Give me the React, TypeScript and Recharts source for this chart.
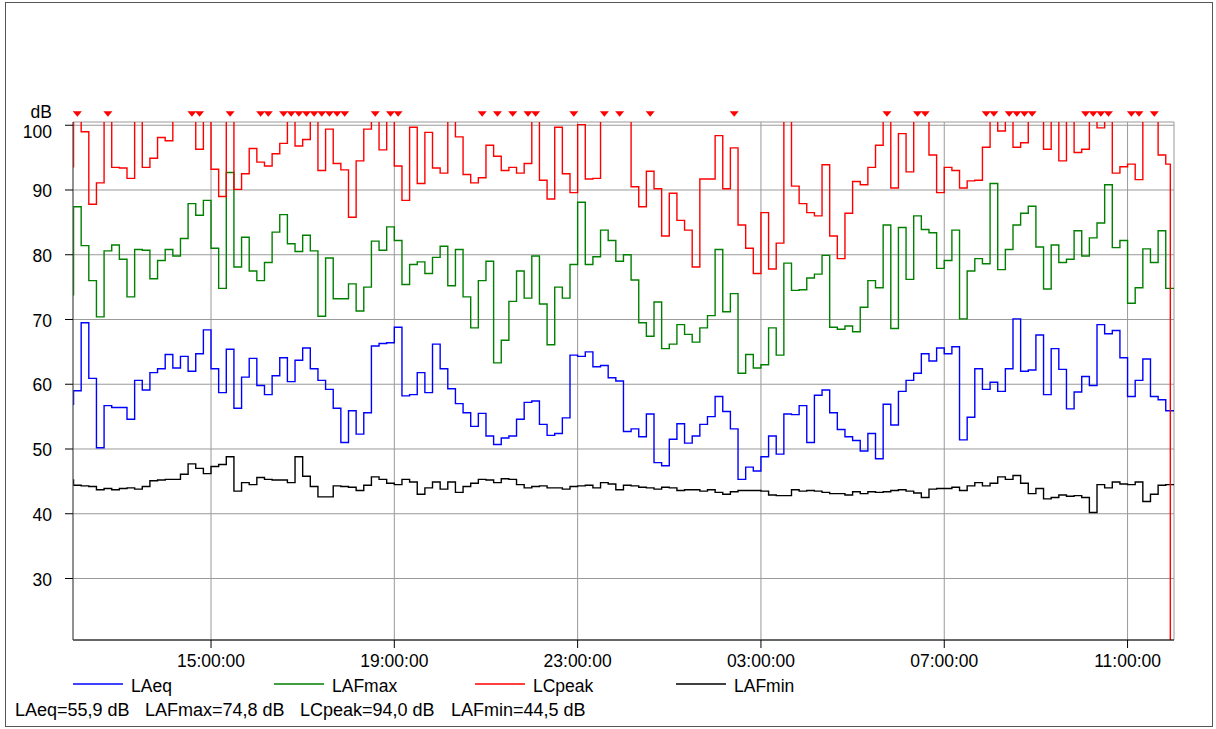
import React from 'react';
import { ComposedChart, Line, Scatter, XAxis, YAxis, CartesianGrid } from 'recharts';

// Measurement: 10-minute intervals starting at 12:00
const START_HOUR = 12;
const INTERVAL_MIN = 10;

const lcpeak = [
  101, 99.0, 87.8, 91.1, 101, 93.5, 93.4, 91.8, 101, 93.5, 94.9, 98.1, 97.6, 101, 101, 101, 96.3, 101,
  93.2, 89.0, 101, 90.1, 92.5, 96.4, 94.3, 93.7, 95.6, 97.2, 101, 96.8, 97.8, 101, 93.0, 99.4, 94.1, 93.1,
  85.8, 94.5, 99.4, 101, 96.2, 101, 93.7, 88.4, 99.7, 91.0, 98.9, 93.4, 92.6, 101, 98.2, 92.4, 91.1, 91.9,
  96.9, 95.2, 93.0, 93.5, 92.6, 94.1, 101, 91.5, 88.6, 99.7, 92.5, 89.6, 100.1, 91.7, 91.8, 101, 101, 101,
  101, 90.5, 87.4, 92.9, 90.2, 82.9, 89.5, 85.3, 83.8, 78.1, 91.7, 91.7, 98.4, 90.2, 96.5, 84.6, 81.0, 77.1, 86.5,
  77.8, 81.8, 101, 90.6, 87.9, 86.5, 86.0, 93.9, 82.9, 79.4, 86.4, 91.3, 90.8, 93.5, 96.9, 101, 90.3, 98.7,
  92.8, 101, 101, 95.4, 89.6, 93.5, 93.0, 90.3, 91.4, 91.5, 96.6, 101, 99.1, 101, 96.6, 97.3, 101, 101,
  96.3, 101, 94.5, 101, 95.8, 96.3, 101, 99.6, 101, 92.6, 93.6, 94.0, 91.6, 101, 101, 95.4, 94.0,
];

const lafmax = [
  87.4, 81.4, 76.0, 70.4, 80.6, 81.5, 79.3, 73.5, 80.8, 80.7, 76.3, 79.1, 80.8, 79.8, 82.5, 87.9, 86.1, 88.4,
  81.0, 74.8, 92.7, 78.1, 82.7, 77.5, 76.0, 78.8, 83.5, 86.2, 81.7, 80.5, 83.0, 80.6, 70.5, 79.5, 73.2, 73.2,
  75.5, 71.3, 75.0, 82.1, 80.7, 84.3, 82.2, 75.4, 78.5, 78.9, 77.1, 79.6, 81.3, 75.2, 80.8, 73.5, 68.7, 76.0,
  79.0, 63.3, 66.8, 72.8, 77.5, 73.3, 79.8, 72.4, 66.1, 75.0, 73.3, 78.5, 88.1, 78.5, 79.7, 83.8, 82.2, 79.0,
  80.0, 76.1, 69.5, 67.4, 72.7, 65.5, 66.2, 69.2, 67.7, 66.5, 68.7, 70.6, 80.8, 71.2, 74.0, 61.7, 64.6, 62.5, 63.0,
  68.7, 64.5, 78.7, 74.5, 74.6, 76.4, 77.0, 79.9, 68.8, 68.5, 69.0, 68.1, 71.9, 76.0, 74.9, 84.6, 68.6, 84.2,
  76.2, 86.0, 83.9, 83.4, 77.9, 79.1, 83.8, 70.1, 77.5, 79.4, 78.6, 91.0, 77.7, 80.8, 84.6, 86.4, 87.5, 81.2,
  74.7, 81.5, 78.8, 79.3, 83.7, 79.8, 82.6, 84.9, 90.8, 81.1, 82.2, 72.5, 74.9, 80.9, 78.8, 83.7, 74.8,
];

const laeq = [
  59.0, 69.5, 60.9, 50.2, 56.7, 56.4, 56.4, 54.6, 60.6, 59.1, 61.8, 62.4, 64.6, 62.5, 64.3, 62.0, 64.7, 68.4,
  62.4, 58.7, 65.4, 56.3, 61.1, 64.0, 59.8, 58.4, 61.3, 64.1, 60.4, 63.7, 65.6, 62.4, 60.6, 59.2, 56.3, 51.0,
  55.9, 52.3, 55.6, 65.9, 66.3, 66.4, 68.8, 58.2, 58.4, 61.8, 58.7, 66.2, 62.4, 59.3, 57.0, 55.6, 53.5, 55.5,
  52.0, 50.7, 51.7, 52.0, 54.6, 57.2, 57.4, 53.8, 52.1, 52.4, 54.8, 64.5, 64.3, 65.0, 62.7, 62.9, 61.0, 60.5,
  52.7, 53.1, 51.9, 55.4, 47.9, 47.4, 51.5, 53.9, 50.9, 52.0, 53.8, 55.0, 58.1, 55.8, 53.1, 45.3, 47.2, 46.6, 48.8,
  52.0, 49.2, 55.4, 55.3, 56.7, 51.0, 58.3, 59.1, 55.6, 53.0, 51.9, 51.3, 49.7, 52.4, 48.5, 56.9, 53.7, 58.9,
  60.6, 61.7, 64.7, 63.6, 65.6, 64.7, 65.8, 51.4, 54.9, 62.4, 59.2, 60.3, 58.9, 62.4, 70.1, 62.0, 62.2, 67.6,
  58.4, 65.5, 62.3, 56.2, 58.8, 61.2, 59.8, 69.2, 67.8, 68.3, 64.1, 58.1, 60.6, 63.9, 58.1, 57.6, 55.9,
];

const lafmin = [
  44.4, 44.3, 44.2, 43.7, 43.9, 43.7, 43.9, 44.0, 43.8, 44.2, 45.1, 45.2, 45.3, 45.3, 46.1, 47.7, 47.0, 46.2,
  47.3, 47.6, 48.8, 43.5, 44.8, 44.5, 45.6, 45.3, 45.2, 45.2, 44.8, 48.8, 45.8, 44.2, 42.6, 42.6, 44.3, 44.2,
  44.1, 43.6, 44.4, 45.7, 45.3, 44.7, 44.5, 45.3, 44.9, 43.0, 44.0, 44.9, 43.8, 44.9, 43.3, 44.2, 44.7, 45.3,
  45.2, 44.8, 45.4, 45.3, 44.5, 44.0, 44.2, 44.3, 44.0, 44.0, 43.8, 44.2, 44.3, 44.4, 44.0, 44.8, 44.6, 43.7,
  44.4, 44.3, 44.1, 44.0, 43.8, 44.1, 44.0, 43.6, 43.7, 43.7, 43.5, 43.7, 43.3, 43.0, 43.4, 43.6, 43.6, 43.6, 43.5,
  42.9, 42.8, 42.8, 43.7, 43.5, 43.6, 43.5, 43.3, 43.1, 43.1, 42.9, 43.4, 43.1, 43.4, 43.3, 43.4, 43.6, 43.7,
  43.5, 43.2, 42.5, 43.8, 43.9, 43.9, 44.1, 43.6, 44.3, 44.8, 44.3, 44.7, 45.7, 45.3, 45.9, 44.7, 43.1, 43.9,
  42.3, 42.5, 42.9, 42.7, 42.8, 42.5, 40.2, 44.5, 44.0, 44.9, 44.6, 44.5, 44.9, 41.9, 43.0, 44.4, 44.5,
];

// values shown just before the first interval
const initialValues = { lcpeak: 93.6, lafmax: 73.8, laeq: 56.9, lafmin: 45.2 };

// intervals flagged as overload (red markers above the plot)
const overloadIdx = [
  0, 4, 15, 16, 20, 24, 25, 27, 28, 29, 30, 31, 32, 33, 34, 35, 39, 41, 42, 53, 55, 57, 59, 60, 65, 69, 71,
  75, 86, 106, 110, 111, 119, 120, 122, 123, 124, 125, 132, 133, 134, 135, 138, 139, 141,
];

// LCpeak record stops shortly before the end (minutes since start)
const LCPEAK_END_MIN = 1436;
const X_MIN = -0.7;
const X_MAX = 1440.8;

const xTicks = [180, 420, 660, 900, 1140, 1380];
const yTicks = [30, 40, 50, 60, 70, 80, 90, 100];
const Y_DOMAIN: [number, number] = [20.5, 100.5];

const seriesInfo = [
  { key: 'laeq', name: 'LAeq', color: '#0000FF' },
  { key: 'lafmax', name: 'LAFmax', color: '#008000' },
  { key: 'lcpeak', name: 'LCpeak', color: '#FF0000' },
  { key: 'lafmin', name: 'LAFmin', color: '#000000' },
];

const summaryItems = ['LAeq=55,9 dB', 'LAFmax=74,8 dB', 'LCpeak=94,0 dB', 'LAFmin=44,5 dB'];

const FONT = '"Liberation Sans", Arial, sans-serif';
const FS = 17.5;

const n = laeq.length;
const data: any[] = [];
data.push({ t: X_MIN, ...initialValues });
for (let i = 0; i < n; i++) {
  data.push({ t: i * INTERVAL_MIN, lcpeak: lcpeak[i], lafmax: lafmax[i], laeq: laeq[i], lafmin: lafmin[i] });
}
data.push({ t: LCPEAK_END_MIN, lcpeak: 0, lafmax: lafmax[n - 1], laeq: laeq[n - 1], lafmin: lafmin[n - 1] });
data.push({ t: X_MAX, lcpeak: 0, lafmax: lafmax[n - 1], laeq: laeq[n - 1], lafmin: lafmin[n - 1] });

const flagData = overloadIdx.map((i) => ({ t: i * INTERVAL_MIN + INTERVAL_MIN / 2, f: 100 }));

const fmtTime = (m: number) => {
  const total = START_HOUR * 60 + m;
  const h = Math.floor(total / 60) % 24;
  const mm = Math.round(total % 60);
  return `${String(h).padStart(2, '0')}:${String(mm).padStart(2, '0')}:00`;
};

const YTick = (props: any) => {
  const { x, y, payload } = props;
  const off = payload.value === 100 ? 7 : 1;
  return (
    <text x={x} y={y + off} dy="0.355em" textAnchor="end" fontSize={FS} fontFamily={FONT} fill="#000">
      {payload.value}
    </text>
  );
};

const Triangle = (props: any) => {
  const { cx, cy } = props;
  if (cx == null || cy == null) return null;
  return <polygon points={`${cx - 4.5},${cy - 14} ${cx + 4.5},${cy - 14} ${cx},${cy - 8.5}`} fill="#FF0000" />;
};

const legendX = [73, 274, 475, 676];
const summaryX = [15, 145, 300, 451];

export default function App() {
  return (
    <div style={{ position: 'absolute', left: 0, top: 0, width: 1216, height: 729, background: '#fff', fontFamily: FONT }}>
      <div style={{ position: 'absolute', left: 5, top: 2, width: 1206, height: 723, border: '1px solid #555' }} />
      <ComposedChart
        width={1216}
        height={729}
        data={data}
        margin={{ top: 122, right: 42, bottom: 59, left: 13 }}
        style={{ position: 'absolute', left: 0, top: 0 }}
      >
        <CartesianGrid stroke="#9a9a9a" strokeWidth={1} />
        <XAxis
          dataKey="t"
          type="number"
          domain={[X_MIN, X_MAX]}
          ticks={xTicks}
          tickFormatter={fmtTime}
          allowDataOverflow
          height={30}
          tickSize={8}
          tickMargin={7}
          axisLine={{ stroke: '#000' }}
          tickLine={{ stroke: '#000' }}
          tick={{ fontSize: FS, fontFamily: FONT, fill: '#000' }}
        />
        <XAxis
          xAxisId="top"
          orientation="top"
          dataKey="t"
          type="number"
          domain={[X_MIN, X_MAX]}
          height={0}
          tick={false}
          tickLine={false}
          axisLine={{ stroke: '#000' }}
        />
        <YAxis
          type="number"
          domain={Y_DOMAIN}
          ticks={yTicks}
          allowDataOverflow
          width={60}
          tickSize={8}
          tickMargin={13}
          axisLine={{ stroke: '#555' }}
          tickLine={{ stroke: '#000' }}
          tick={<YTick />}
          label={{
            content: (p: any) => (
              <text x={52} y={p.viewBox.y - 10} dy="0.355em" textAnchor="end" fontSize={FS} fontFamily={FONT} fill="#000">
                dB
              </text>
            ),
          }}
        />
        <YAxis
          yAxisId="right"
          orientation="right"
          type="number"
          domain={Y_DOMAIN}
          width={0}
          tick={false}
          tickLine={false}
          axisLine={{ stroke: '#555' }}
        />
        <YAxis yAxisId="flags" dataKey="f" type="number" domain={Y_DOMAIN} hide />
        <Line dataKey="lafmin" type="stepAfter" stroke="#000000" strokeWidth={1.4} dot={false} isAnimationActive={false} />
        <Line dataKey="laeq" type="stepAfter" stroke="#0000FF" strokeWidth={1.4} dot={false} isAnimationActive={false} />
        <Line dataKey="lafmax" type="stepAfter" stroke="#008000" strokeWidth={1.4} dot={false} isAnimationActive={false} />
        <Line dataKey="lcpeak" type="stepAfter" stroke="#FF0000" strokeWidth={1.4} dot={false} isAnimationActive={false} />
        <Scatter data={flagData} dataKey="f" yAxisId="flags" shape={<Triangle />} isAnimationActive={false} />
      </ComposedChart>
      <svg width={1216} height={729} style={{ position: 'absolute', left: 0, top: 0, pointerEvents: 'none' }}>
        {seriesInfo.map((s, i) => (
          <g key={s.key}>
            <line x1={legendX[i]} x2={legendX[i] + 50} y1={684} y2={684} stroke={s.color} strokeWidth={1.4} />
            <text x={legendX[i] + 58} y={692} fontSize={FS} fontFamily={FONT} fill="#000">
              {s.name}
            </text>
          </g>
        ))}
        {summaryItems.map((s, i) => (
          <text key={s} x={summaryX[i]} y={716} fontSize={18} fontFamily={FONT} fill="#000">
            {s}
          </text>
        ))}
      </svg>
    </div>
  );
}
